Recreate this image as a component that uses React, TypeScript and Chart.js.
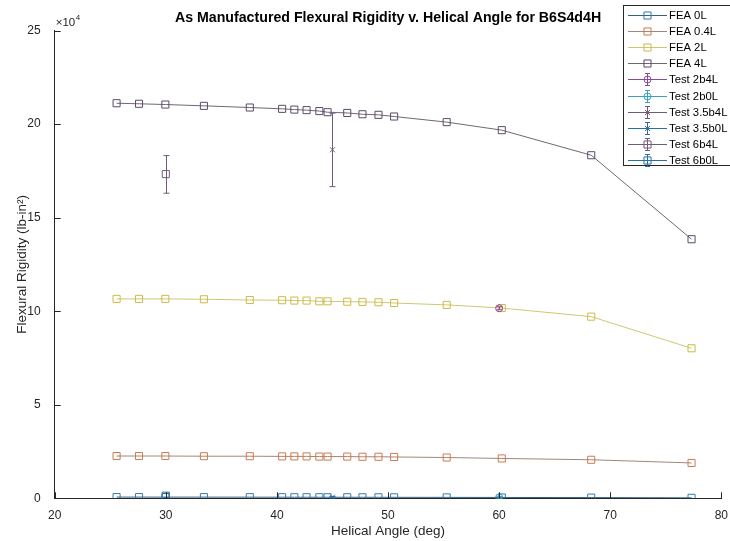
import React, { useEffect, useRef } from "react";
import { Chart, registerables } from "chart.js";

Chart.register(...registerables);

// ---------- data ----------
const chartTitle = "As Manufactured Flexural Rigidity v. Helical Angle for B6S4d4H";
const xAxisLabel = "Helical Angle (deg)";
const yAxisLabel = "Flexural Rigidity (lb-in\u00B2)";

const xTickValues = [20, 30, 40, 50, 60, 70, 80];
const yTickValues = [0, 50000, 100000, 150000, 200000, 250000];

const feaAngles = [25.57, 27.59, 29.96, 33.43, 37.56, 40.47, 41.57, 42.67, 43.82, 44.56, 46.33, 47.7, 49.14, 50.55, 55.28, 60.24, 68.29, 77.32];
const fea0L = [650, 640, 630, 620, 600, 590, 580, 575, 570, 565, 555, 545, 535, 525, 490, 450, 380, 250];
const fea04L = [22600, 22600, 22600, 22500, 22500, 22400, 22400, 22400, 22300, 22300, 22300, 22200, 22200, 22100, 21800, 21300, 20600, 18900];
const fea2L = [106600, 106600, 106600, 106400, 106000, 105900, 105700, 105700, 105300, 105300, 105100, 105000, 104800, 104400, 103400, 101700, 97100, 80200];
const fea4L = [211200, 210900, 210500, 209800, 208900, 208200, 207800, 207500, 207000, 206400, 206000, 205300, 205000, 204100, 201100, 196800, 183400, 138500];

const test2b4L = { x: [60], y: [101600], lo: [100800], hi: [102400] };
const test2b0L = { x: [60], y: [500], lo: [0], hi: [1000] };
const test35b4L = { x: [45], y: [186300], lo: [166600], hi: [205900] };
const test35b0L = { x: [45], y: [600], lo: [200], hi: [1000] };
const test6b4L = { x: [30], y: [173300], lo: [163100], hi: [183200] };
const test6b0L = { x: [30], y: [1400], lo: [400], hi: [2600] };

// ---------- helpers ----------
const FONT = "'Liberation Sans', Arial, Helvetica, sans-serif";
const AX = "#262626";

const pts = (xs: number[], ys: number[]) => xs.map((x, i) => ({ x, y: ys[i] }));

const feaSet = (label: string, ys: number[], line: string, mark: string) => ({
  label,
  data: pts(feaAngles, ys),
  borderColor: line,
  borderWidth: 1,
  pointStyle: "rect",
  pointRadius: 5,
  pointBorderColor: mark,
  pointBackgroundColor: "rgba(0,0,0,0)",
  pointBorderWidth: 1,
  showLine: true,
  tension: 0,
  order: 10,
});

const testSet = (label: string, t: { x: number[]; y: number[]; lo: number[]; hi: number[] }, style: string, color: string, radius: number) => ({
  label,
  data: pts(t.x, t.y),
  errLo: t.lo,
  errHi: t.hi,
  borderColor: color,
  borderWidth: 1,
  pointStyle: style,
  pointRadius: radius,
  pointBorderColor: color,
  pointBackgroundColor: "rgba(0,0,0,0)",
  pointBorderWidth: 1,
  showLine: false,
  order: 1,
});

const drawMarker = (ctx: CanvasRenderingContext2D, style: string, x: number, y: number, r: number, color: string) => {
  ctx.save();
  ctx.strokeStyle = color;
  ctx.lineWidth = 1;
  ctx.beginPath();
  if (style === "rect") {
    const s = Math.SQRT1_2 * r;
    ctx.rect(x - s, y - s, 2 * s, 2 * s);
  } else if (style === "circle") {
    ctx.arc(x, y, r, 0, Math.PI * 2);
  } else {
    const s = r * Math.SQRT1_2;
    ctx.moveTo(x - s, y - s);
    ctx.lineTo(x + s, y + s);
    ctx.moveTo(x - s, y + s);
    ctx.lineTo(x + s, y - s);
  }
  ctx.stroke();
  ctx.restore();
};

const matlabPlugin = {
  id: "matlabDecor",
  afterDatasetsDraw(chart: any) {
    const ctx: CanvasRenderingContext2D = chart.ctx;
    const xs = chart.scales.x;
    const ys = chart.scales.y;
    chart.data.datasets.forEach((ds: any) => {
      if (!ds.errLo) return;
      ds.data.forEach((p: any, j: number) => {
        const px = Math.round(xs.getPixelForValue(p.x)) + 0.5;
        const yl = ys.getPixelForValue(ds.errLo[j]);
        const yh = ys.getPixelForValue(ds.errHi[j]);
        ctx.save();
        ctx.strokeStyle = ds.borderColor;
        ctx.lineWidth = 1;
        ctx.beginPath();
        ctx.moveTo(px, yl);
        ctx.lineTo(px, yh);
        ctx.moveTo(px - 3, yl);
        ctx.lineTo(px + 3, yl);
        ctx.moveTo(px - 3, yh);
        ctx.lineTo(px + 3, yh);
        ctx.stroke();
        ctx.restore();
      });
    });
  },
  afterDraw(chart: any) {
    const ctx: CanvasRenderingContext2D = chart.ctx;
    const xs = chart.scales.x;
    const ys = chart.scales.y;
    const area = chart.chartArea;
    // inward ticks
    ctx.save();
    ctx.strokeStyle = AX;
    ctx.lineWidth = 1;
    ctx.beginPath();
    xTickValues.forEach((v) => {
      const px = Math.round(xs.getPixelForValue(v)) + 0.5;
      ctx.moveTo(px, area.bottom);
      ctx.lineTo(px, area.bottom - 6);
    });
    yTickValues.forEach((v) => {
      const py = Math.round(ys.getPixelForValue(v)) + 0.5;
      ctx.moveTo(area.left, py);
      ctx.lineTo(area.left + 6, py);
    });
    ctx.stroke();
    // exponent label
    ctx.fillStyle = AX;
    ctx.textBaseline = "alphabetic";
    ctx.textAlign = "left";
    ctx.font = `11.5px ${FONT}`;
    ctx.fillText("\u00D710", area.left + 1, 26);
    ctx.font = `8px ${FONT}`;
    ctx.fillText("4", area.left + 21, 19.5);
    ctx.restore();

    // legend
    const lx = 623.5;
    const ly = 5.5;
    ctx.save();
    ctx.fillStyle = "#ffffff";
    ctx.strokeStyle = AX;
    ctx.lineWidth = 1;
    ctx.fillRect(lx, ly, 120, 160);
    ctx.strokeRect(lx, ly, 120, 160);
    ctx.font = `11.3px ${FONT}`;
    ctx.textBaseline = "middle";
    ctx.textAlign = "left";
    chart.data.datasets.forEach((ds: any, i: number) => {
      const y = Math.round(15 + i * 16.1) + 0.5;
      ctx.strokeStyle = ds.borderColor;
      ctx.beginPath();
      ctx.moveTo(628, y);
      ctx.lineTo(667, y);
      ctx.stroke();
      if (ds.errLo) {
        ctx.beginPath();
        ctx.moveTo(647.5, y - 6);
        ctx.lineTo(647.5, y + 6);
        ctx.moveTo(645, y - 6);
        ctx.lineTo(650, y - 6);
        ctx.moveTo(645, y + 6);
        ctx.lineTo(650, y + 6);
        ctx.stroke();
      }
      drawMarker(ctx, ds.pointStyle, 647.5, y, ds.pointStyle === "rect" ? 5 : ds.pointRadius, ds.pointBorderColor);
      ctx.fillStyle = "#000000";
      ctx.fillText(ds.label, 669, y);
    });
    ctx.restore();
  },
};

export default function App() {
  const ref = useRef<HTMLCanvasElement | null>(null);
  useEffect(() => {
    document.body.style.margin = "0";
    const canvas = ref.current;
    if (!canvas) return;
    Chart.defaults.font.family = FONT;
    const purpleT = "#6f5a7c";
    const blueT = "#2a6fa3";
    const chart = new Chart(canvas, {
      type: "line",
      data: {
        datasets: [
          feaSet("FEA 0L", fea0L, "#35607e", "#2f7db2"),
          feaSet("FEA 0.4L", fea04L, "#a0867a", "#cf7a4c"),
          feaSet("FEA 2L", fea2L, "#cdc870", "#cdbb45"),
          feaSet("FEA 4L", fea4L, "#6e6872", "#5e4a6a"),
          testSet("Test 2b4L", test2b4L, "circle", "#8a4a9a", 3.5),
          testSet("Test 2b0L", test2b0L, "circle", "#3a9fc0", 3.5),
          testSet("Test 3.5b4L", test35b4L, "crossRot", purpleT, 3.5),
          testSet("Test 3.5b0L", test35b0L, "crossRot", blueT, 3.5),
          testSet("Test 6b4L", test6b4L, "rect", purpleT, 5),
          testSet("Test 6b0L", test6b0L, "rect", blueT, 5),
        ] as any,
      },
      options: {
        responsive: false,
        animation: false,
        devicePixelRatio: 1,
        layout: { padding: { top: 0, right: 6.7, bottom: 0, left: 0 } },
        plugins: {
          legend: { display: false },
          tooltip: { enabled: false },
          title: {
            display: true,
            text: chartTitle,
            fullSize: false,
            color: "#000000",
            font: { size: 14.2, weight: "bold", family: FONT },
            padding: { top: 9.2, bottom: 4.4 },
          },
        },
        scales: {
          x: {
            type: "linear",
            min: 20,
            max: 80,
            afterBuildTicks: (s: any) => {
              s.ticks = xTickValues.map((v) => ({ value: v }));
            },
            ticks: { color: AX, font: { size: 12 }, padding: 2, maxRotation: 0, autoSkip: false },
            grid: { display: false },
            border: { display: true, color: AX, width: 1 },
            title: { display: true, text: xAxisLabel, color: AX, font: { size: 13.5 }, padding: { top: 0, bottom: 1.5 } },
            afterFit: (s: any) => {
              s.height = 42.7;
            },
          },
          y: {
            type: "linear",
            min: 0,
            max: 250000,
            afterBuildTicks: (s: any) => {
              s.ticks = yTickValues.map((v) => ({ value: v }));
            },
            ticks: { color: AX, font: { size: 12 }, padding: 6, callback: (v: any) => String(Number(v) / 1e4) },
            grid: { display: false },
            border: { display: true, color: AX, width: 1 },
            title: { display: true, text: yAxisLabel, color: AX, font: { size: 13.5 }, padding: { top: 14.6, bottom: 0 } },
            afterFit: (s: any) => {
              s.width = 54.7;
            },
          },
        },
      } as any,
      plugins: [matlabPlugin],
    });
    return () => chart.destroy();
  }, []);
  return (
    <div style={{ position: "absolute", left: 0, top: 0, width: 730, height: 541, background: "#fff" }}>
      <canvas ref={ref} width={730} height={541} style={{ display: "block" }} />
    </div>
  );
}
